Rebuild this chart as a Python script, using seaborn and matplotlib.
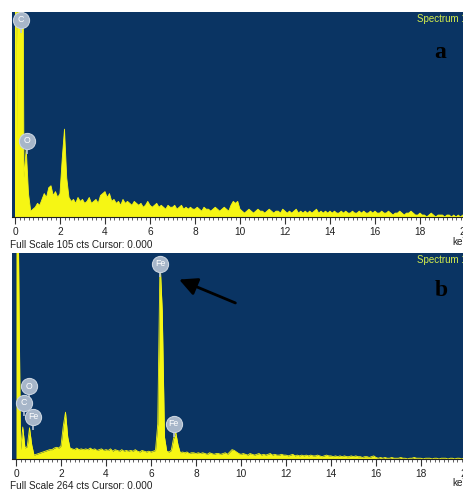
import numpy as np
import matplotlib
matplotlib.use("Agg")
import matplotlib.pyplot as plt
from matplotlib.ticker import MultipleLocator
import seaborn as sns

# ---------------- data ----------------
energy_kev = np.round(np.arange(0, 201) * 0.1, 1)

counts_a = [
    300, 40, 300, 300, 20, 35, 12, 3, 4, 5,
    7, 6, 9, 12, 10, 15, 16, 11, 13, 10,
    12, 30, 45, 20, 10, 8, 9, 7, 10, 8,
    9, 7, 8, 10, 7, 8, 9, 7, 11, 12,
    13, 10, 12, 8, 9, 7, 8, 6, 9, 7,
    8, 7, 6, 8, 7, 6, 7, 5, 6, 8,
    6, 5, 6, 7, 5, 6, 5, 4, 6, 5,
    5, 6, 4, 5, 6, 4, 5, 4, 5, 4,
    4, 5, 4, 3, 5, 4, 4, 3, 4, 5,
    4, 3, 4, 5, 4, 3, 6, 8, 7, 8,
    4, 3, 2, 3, 4, 3, 2, 3, 4, 3,
    3, 2, 3, 4, 3, 2, 3, 3, 2, 4,
    3, 2, 3, 2, 3, 4, 2, 3, 2, 3,
    2, 3, 2, 3, 4, 2, 3, 2, 3, 2,
    3, 2, 3, 2, 2, 3, 2, 3, 2, 2,
    3, 2, 2, 3, 2, 3, 2, 2, 3, 2,
    3, 2, 2, 3, 2, 2, 3, 2, 1, 2,
    2, 3, 2, 1, 2, 2, 3, 2, 1, 1,
    2, 1, 1, 0, 1, 2, 1, 0, 1, 1,
    1, 0, 1, 1, 0, 1, 0, 1, 0, 1,
    1,
]

counts_b = [
    600, 300, 12, 41, 14, 16, 40, 18, 5, 6,
    7, 8, 9, 10, 11, 12, 12, 14, 15, 14,
    17, 42, 60, 28, 14, 13, 12, 14, 12, 13,
    12, 13, 12, 14, 12, 13, 11, 12, 13, 11,
    12, 11, 13, 10, 12, 11, 10, 12, 10, 11,
    10, 11, 10, 12, 10, 9, 11, 10, 9, 10,
    9, 10, 11, 45, 255, 190, 28, 10, 9, 11,
    26, 34, 18, 8, 9, 8, 9, 7, 8, 8,
    7, 8, 7, 8, 7, 6, 8, 7, 6, 7,
    7, 6, 7, 8, 6, 9, 12, 11, 9, 7,
    6, 7, 6, 5, 7, 6, 5, 6, 7, 5,
    6, 5, 6, 7, 5, 6, 5, 5, 6, 5,
    5, 4, 5, 6, 4, 5, 4, 5, 4, 5,
    4, 5, 4, 4, 5, 4, 3, 4, 5, 4,
    4, 3, 4, 3, 4, 3, 4, 3, 3, 4,
    3, 4, 3, 3, 2, 3, 3, 2, 3, 4,
    2, 1, 2, 1, 2, 1, 1, 2, 1, 1,
    1, 2, 1, 1, 0, 1, 1, 2, 1, 1,
    1, 0, 1, 1, 1, 0, 1, 1, 0, 1,
    1, 1, 0, 1, 1, 0, 1, 1, 0, 1,
    1,
]

full_scale_a = 105
full_scale_b = 264

tick_values = [0, 2, 4, 6, 8, 10, 12, 14, 16, 18, 20]
tick_labels = ["0", "2", "4", "6", "8", "10", "12", "14", "16", "18", "20"]

# element markers: (symbol, energy keV, counts at marker centre)
labels_a_sym = ["C", "O"]
labels_a_x = [0.27, 0.53]
labels_a_y = [101, 39]
labels_b_sym = ["Fe", "O", "C", "Fe", "Fe"]
labels_b_x = [6.4, 0.58, 0.36, 0.76, 7.0]
labels_b_y = [250, 93, 72, 54, 45]

arrow_head = (7.25, 230)
arrow_tail = (9.75, 200)

# ---------------- style ----------------
sns.set_theme(style="white")
plt.rcParams['font.family'] = ['Liberation Sans', 'DejaVu Sans']

BG = "#0a3463"
YEL = "#f6f614"
W, H = 464, 491
fig = plt.figure(figsize=(W / 100, H / 100), dpi=100)
fig.patch.set_facecolor("white")


def axes_px(left, top, right, bottom):
    return fig.add_axes([left / W, 1 - bottom / H, (right - left) / W, (bottom - top) / H])


def draw_panel(ax, counts, fs, zero_px, left_px, right_px, syms, lx, ly):
    ax.set_facecolor(BG)
    ax.fill_between(energy_kev, 0, counts, color=YEL, linewidth=0, zorder=2)
    sns.lineplot(x=energy_kev, y=counts, ax=ax, color=YEL, linewidth=0.6,
                 estimator=None, zorder=3)
    ax.set_xlim((left_px - zero_px) / 22.5, (right_px - zero_px) / 22.5)
    ax.set_ylim(0, fs)
    ax.set_yticks([])
    ax.set_xticks(tick_values)
    ax.set_xticklabels(tick_labels)
    ax.xaxis.set_minor_locator(MultipleLocator(0.2))
    ax.tick_params(axis="x", which="major", direction="out", length=5, width=0.8,
                   color="#333333", labelsize=7.3, pad=2, labelcolor="#222222")
    ax.tick_params(axis="x", which="minor", direction="out", length=2.5, width=0.6,
                   color="#444444")
    ax.tick_params(axis="x", bottom=True, which="both")
    for s in ["top", "left", "right"]:
        ax.spines[s].set_visible(False)
    ax.spines["bottom"].set_color("#222222")
    ax.spines["bottom"].set_linewidth(0.8)
    ax.set_xlabel("")
    ax.set_ylabel("")
    # element markers
    cpp = fs / ax.bbox.height  # counts per pixel
    for s, x, y in zip(syms, lx, ly):
        ax.plot([x, x], [y - 13 * cpp, y], color="#b8c4d4", lw=1.2, zorder=4,
                solid_capstyle="butt")
        ax.scatter([x], [y], s=135, color="#a7b6c9", edgecolor="#c9d3df",
                   linewidth=0.8, zorder=5)
        ax.text(x, y, s, color="white", fontsize=6.3, ha="center", va="center", zorder=6)
    ax.grid(False)


ax_a = axes_px(12, 12, 470, 217)
draw_panel(ax_a, counts_a, full_scale_a, 15, 12, 470, labels_a_sym, labels_a_x, labels_a_y)
ax_b = axes_px(12, 253, 470, 459)
draw_panel(ax_b, counts_b, full_scale_b, 16, 12, 470, labels_b_sym, labels_b_x, labels_b_y)

ax_b.annotate("", xy=arrow_head, xytext=arrow_tail,
              arrowprops=dict(arrowstyle="-|>,head_length=0.9,head_width=0.45",
                              color="black", lw=2.0, shrinkA=0, shrinkB=0),
              zorder=7)


def ftext(xp, yp, s, **kw):
    fig.text(xp / W, 1 - yp / H, s, **kw)


ftext(417, 19, "Spectrum 1", color="#d6ef4c", fontsize=7.0, va="center", ha="left")
ftext(417, 260, "Spectrum 1", color="#d6ef4c", fontsize=7.0, va="center", ha="left")
ftext(440, 52, "a", color="black", fontsize=17, fontweight="bold",
      family=["Liberation Serif", "DejaVu Serif"], va="center", ha="center")
ftext(441, 291, "b", color="black", fontsize=17, fontweight="bold",
      family=["Liberation Serif", "DejaVu Serif"], va="center", ha="center")
ftext(10, 245, "Full Scale 105 cts Cursor: 0.000", color="#222222", fontsize=7.2,
      va="center", ha="left")
ftext(10, 486, "Full Scale 264 cts Cursor: 0.000", color="#222222", fontsize=7.2,
      va="center", ha="left")
ftext(452, 242, "keV", color="#222222", fontsize=7.2, va="center", ha="left")
ftext(452, 483, "keV", color="#222222", fontsize=7.2, va="center", ha="left")

fig.savefig("out.png", dpi=100, facecolor="white")
